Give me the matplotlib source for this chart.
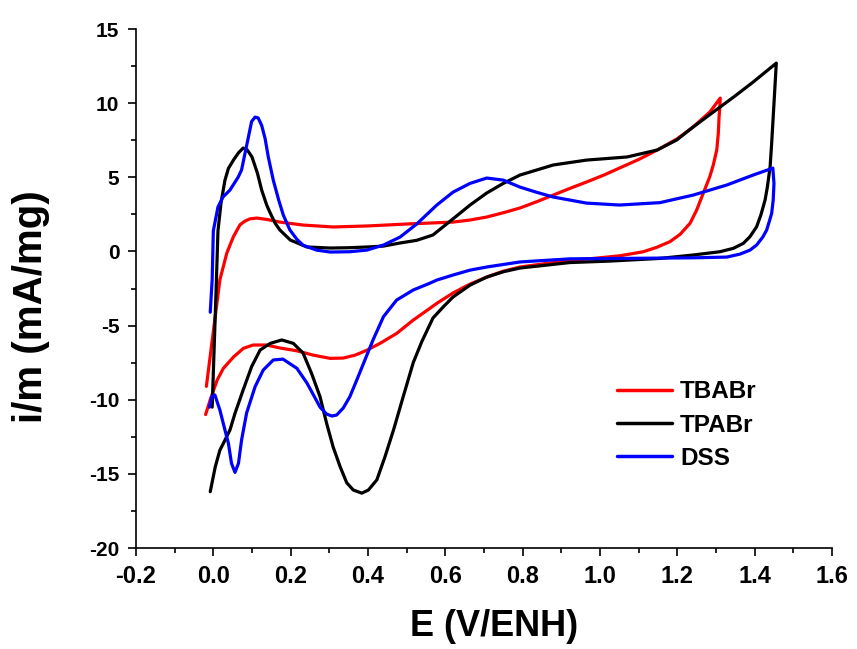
import matplotlib
matplotlib.use("Agg")
import matplotlib.pyplot as plt
from matplotlib.ticker import MultipleLocator

plt.rcParams['font.family'] = ['Liberation Sans', 'DejaVu Sans']
plt.rcParams['font.weight'] = 'bold'

# ---- data (E in V/ENH, i/m in mA/mg), traced in scan order ----
tbabr_E = [-0.018, 0.017, 0.035, 0.052, 0.069, 0.082, 0.095, 0.113, 0.14, 0.172,
           0.232, 0.31, 0.40, 0.50, 0.62, 0.664, 0.707, 0.75, 0.793, 0.836,
           0.879, 0.922, 0.965, 1.01, 1.05, 1.10, 1.148, 1.20, 1.241, 1.284,
           1.311,
           1.310, 1.308, 1.306, 1.302, 1.293, 1.284, 1.267, 1.25, 1.233, 1.207,
           1.181, 1.147, 1.112, 1.052, 0.983, 0.922, 0.793, 0.75, 0.707, 0.664,
           0.62, 0.578, 0.561, 0.517, 0.474, 0.431, 0.398, 0.367, 0.336, 0.302,
           0.258, 0.216, 0.172, 0.138, 0.103, 0.078, 0.052, 0.026, 0.01, -0.008,
           -0.02]
tbabr_i = [-9.1, -1.9, -0.1, 1.0, 1.8, 2.05, 2.2, 2.25, 2.15, 1.98,
           1.78, 1.65, 1.72, 1.85, 1.98, 2.12, 2.32, 2.61, 2.93, 3.35,
           3.8, 4.25, 4.68, 5.15, 5.62, 6.2, 6.84, 7.6, 8.4, 9.4,
           10.34,
           9.76, 9.08, 7.96, 6.84, 5.83, 5.04, 3.92, 2.79, 1.9, 1.15,
           0.66, 0.28, -0.02, -0.29, -0.47, -0.6, -1.05, -1.33, -1.73, -2.2,
           -2.8, -3.5, -3.82, -4.63, -5.53, -6.2, -6.65, -6.99, -7.19, -7.21,
           -6.99, -6.70, -6.51, -6.31, -6.31, -6.53, -7.12, -7.88, -8.67, -10.0,
           -11.0]

tpabr_E = [-0.003, 0.008, 0.012, 0.02, 0.03, 0.039, 0.052, 0.065, 0.077, 0.088,
           0.1, 0.114, 0.125, 0.138, 0.147, 0.16, 0.172, 0.199, 0.242, 0.268,
           0.302, 0.35, 0.397, 0.44, 0.483, 0.526, 0.568, 0.62, 0.664, 0.707,
           0.75, 0.793, 0.879, 0.965, 1.07, 1.148, 1.198, 1.241, 1.293, 1.345,
           1.396, 1.456,
           1.453, 1.448, 1.444, 1.44, 1.433, 1.427, 1.416, 1.405, 1.388, 1.371,
           1.345, 1.31, 1.241, 1.155, 1.026, 0.922, 0.793, 0.75, 0.707, 0.664,
           0.62, 0.595, 0.568, 0.539, 0.517, 0.491, 0.466, 0.444, 0.423, 0.401,
           0.384, 0.362, 0.345, 0.328, 0.31, 0.293, 0.276, 0.254, 0.232, 0.207,
           0.177, 0.147, 0.121, 0.099, 0.077, 0.056, 0.043, 0.026, 0.017, 0.005,
           -0.008]
tpabr_i = [-10.5, -1.9, 1.4, 3.3, 4.8, 5.6, 6.16, 6.65, 6.97, 6.84,
           6.37, 5.28, 4.14, 3.13, 2.6, 1.9, 1.45, 0.77, 0.3, 0.27,
           0.23, 0.25, 0.30, 0.36, 0.57, 0.75, 1.11, 2.2, 3.13, 3.94,
           4.59, 5.15, 5.83, 6.16, 6.37, 6.84, 7.51, 8.39, 9.4, 10.4,
           11.42, 12.7,
           11.33, 9.08, 7.29, 5.71, 4.36, 3.47, 2.45, 1.66, 1.0, 0.55,
           0.21, -0.02, -0.24, -0.47, -0.65, -0.75, -1.12, -1.37, -1.73, -2.27,
           -3.07, -3.73, -4.49, -6.09, -7.5, -9.8, -12.04, -13.84, -15.4, -16.09,
           -16.3, -16.09, -15.6, -14.52, -13.2, -11.59, -9.8, -8.22, -6.85, -6.2,
           -5.97, -6.2, -6.65, -7.77, -9.35, -10.92, -12.04, -12.94, -13.4, -14.52,
           -16.2]

dss_E = [-0.008, -0.003, 0.0, 0.012, 0.025, 0.043, 0.064, 0.073, 0.082, 0.091,
         0.099, 0.108, 0.116, 0.125, 0.134, 0.142, 0.155, 0.169, 0.181, 0.198,
         0.216, 0.232, 0.267, 0.302, 0.353, 0.397, 0.44, 0.483, 0.526, 0.578,
         0.62, 0.664, 0.707, 0.75, 0.793, 0.836, 0.879, 0.965, 1.05, 1.155,
         1.241, 1.328, 1.396, 1.447,
         1.450, 1.448, 1.444, 1.439, 1.431, 1.421, 1.405, 1.388, 1.362, 1.328,
         1.241, 0.922, 0.793, 0.707, 0.664, 0.62, 0.578, 0.561, 0.517, 0.474,
         0.44, 0.413, 0.392, 0.371, 0.353, 0.336, 0.319, 0.307, 0.293, 0.276,
         0.259, 0.242, 0.216, 0.18, 0.155, 0.129, 0.108, 0.086, 0.073, 0.065,
         0.056, 0.047, 0.039, 0.03, 0.017, 0.004, -0.004, -0.01]
dss_i = [-4.1, -1.9, 1.4, 3.0, 3.67, 4.14, 5.0, 5.49, 6.63, 7.75,
         8.76, 9.06, 9.0, 8.5, 7.6, 6.39, 4.81, 3.47, 2.45, 1.45,
         0.82, 0.42, 0.09, -0.04, -0.02, 0.09, 0.43, 0.97, 1.85, 3.13,
         4.0, 4.59, 4.95, 4.81, 4.34, 3.99, 3.67, 3.26, 3.13, 3.29,
         3.8, 4.48, 5.15, 5.62,
         4.59, 3.47, 2.57, 2.12, 1.44, 0.97, 0.43, 0.09, -0.18, -0.38,
         -0.43, -0.5, -0.71, -1.05, -1.26, -1.59, -1.93, -2.13, -2.6, -3.28,
         -4.4, -5.97, -7.32, -8.67, -9.8, -10.56, -11.03, -11.1, -10.97, -10.5,
         -9.68, -8.87, -7.88, -7.26, -7.32, -8.0, -9.12, -10.9, -12.72, -14.29,
         -14.9, -14.29, -12.94, -12.04, -10.7, -9.68, -9.8, -10.5]

labels = ["TBABr", "TPABr", "DSS"]
colors = ["#ff0000", "#000000", "#0000ff"]

fig = plt.figure(figsize=(8.57, 6.49), dpi=100)
ax = fig.add_axes([0.1587, 0.1556, 0.8121, 0.7997])

for E, I, lab, c in zip([tbabr_E, tpabr_E, dss_E], [tbabr_i, tpabr_i, dss_i], labels, colors):
    ax.plot(E, I, color=c, lw=2.3, label=lab, solid_joinstyle='round', solid_capstyle='round')

ax.set_xlim(-0.2, 1.6)
ax.set_ylim(-20, 15)
ax.xaxis.set_minor_locator(MultipleLocator(0.1))
ax.yaxis.set_minor_locator(MultipleLocator(2.5))
ax.set_xticks([-0.2, 0.0, 0.2, 0.4, 0.6, 0.8, 1.0, 1.2, 1.4, 1.6])
ax.set_xticklabels(["-0.2", "0.0", "0.2", "0.4", "0.6", "0.8", "1.0", "1.2", "1.4", "1.6"])
ax.set_yticks([-20, -15, -10, -5, 0, 5, 10, 15])
ax.set_yticklabels(["-20", "-15", "-10", "-5", "0", "5", "10", "15"])

for s in ['top', 'right']:
    ax.spines[s].set_visible(False)
for s in ['left', 'bottom']:
    ax.spines[s].set_linewidth(1.2)

ax.tick_params(axis='both', which='major', direction='out', length=6, width=1.2)
ax.tick_params(axis='both', which='minor', direction='out', length=3.5, width=1.2)
ax.tick_params(axis='x', which='major', labelsize=17, pad=6)
ax.tick_params(axis='y', which='major', labelsize=15, pad=6)
for t in ax.get_xticklabels() + ax.get_yticklabels():
    t.set_fontweight('bold')

ax.set_xlabel("E (V/ENH)", fontsize=26, fontweight='bold')
ax.set_ylabel("i/m (mA/mg)", fontsize=29, fontweight='bold')
ax.xaxis.set_label_coords(0.515, -0.117)
ax.yaxis.set_label_coords(-0.124, 0.465)

leg = ax.legend(loc='upper left', bbox_to_anchor=(0.691, 0.323), frameon=False,
                fontsize=17.5, handlelength=2.25, handletextpad=0.35, labelspacing=0.42,
                borderpad=0, borderaxespad=0)
for t in leg.get_texts():
    t.set_fontweight('bold')
for h in leg.get_lines():
    h.set_linewidth(2.5)

fig.savefig("out.png", dpi=100)
